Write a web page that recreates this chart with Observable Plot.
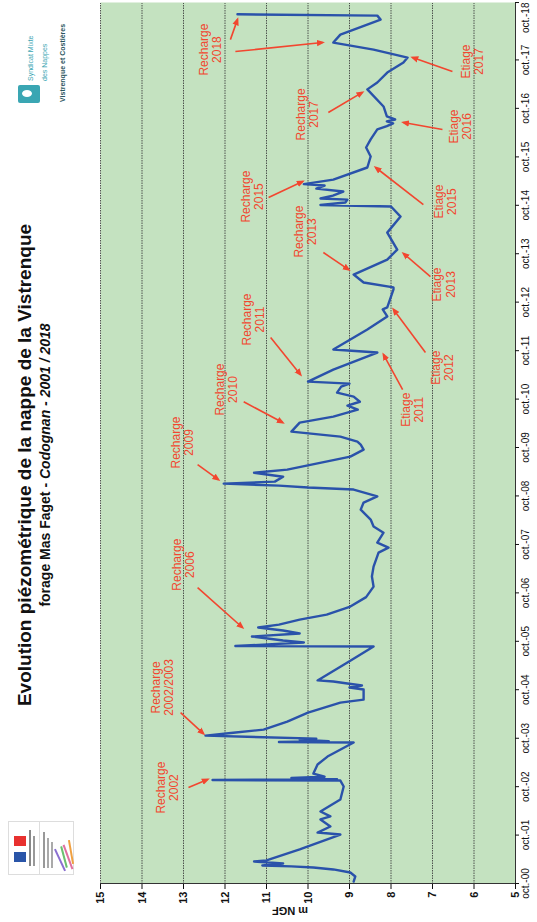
<!DOCTYPE html>
<html><head><meta charset="utf-8">
<script src="https://cdn.jsdelivr.net/npm/d3@7"></script>
<script src="https://cdn.jsdelivr.net/npm/@observablehq/plot@0.6"></script>
<style>
html,body{margin:0;padding:0;width:537px;height:922px;overflow:hidden;background:#fff;}
#rot{position:absolute;left:0;top:0;width:922px;height:537px;transform-origin:0 0;transform:translate(0,922px) rotate(-90deg);font-family:"Liberation Sans",Arial,sans-serif;background:#fff;}
#header{position:relative;height:60px;width:922px;}
#title{position:absolute;left:0;width:914px;top:14px;text-align:center;font-weight:bold;color:#111;}
#title .l1{font-size:19px;line-height:21px;}
#title .l2{font-size:14px;line-height:20px;}
#title i{font-style:italic;}
.logo{position:absolute;}
#chart{position:absolute;left:0;top:60px;}
</style>
</head><body>
<div id="rot">
  <div id="header">
    <div id="title"><div class="l1">Evolution piézométrique de la nappe de la Vistrenque</div><div class="l2">forage Mas Faget - <i>Codognan - 2001 / 2018</i></div></div>
    <div class="logo" id="gov" style="left:47px;top:8px;width:52px;height:64px;border:1px solid #ddd;background:#fff;">
      <div style="position:absolute;left:0;top:0;width:52px;height:30px;border-bottom:1px solid #ddd;">
        <div style="position:absolute;left:12px;top:5px;width:10px;height:12px;background:#2a55a8;"></div>
        <div style="position:absolute;left:22px;top:5px;width:6px;height:12px;background:#fff;"></div>
        <div style="position:absolute;left:28px;top:5px;width:10px;height:12px;background:#e8312f;"></div>
        <div style="position:absolute;left:8px;top:20px;width:36px;height:2px;background:#888;"></div>
        <div style="position:absolute;left:8px;top:24px;width:30px;height:2px;background:#999;"></div>
      </div>
      <div style="position:absolute;left:6px;top:34px;width:36px;height:2px;background:#999;"></div>
      <div style="position:absolute;left:6px;top:38px;width:30px;height:2px;background:#aaa;"></div>
      <div style="position:absolute;left:6px;top:42px;width:26px;height:2px;background:#aaa;"></div>
      <div style="position:absolute;left:2px;top:50px;width:24px;height:2px;background:#8a6fd0;transform:rotate(-25deg);"></div>
      <div style="position:absolute;left:6px;top:54px;width:22px;height:2px;background:#6cc070;transform:rotate(-15deg);"></div>
      <div style="position:absolute;left:4px;top:58px;width:26px;height:2px;background:#e070a0;transform:rotate(-20deg);"></div>
      <div style="position:absolute;left:10px;top:61px;width:24px;height:2px;background:#f0a040;transform:rotate(-10deg);"></div>
    </div>
    <div class="logo" id="sm" style="left:817px;top:15px;width:66px;height:56px;">
      <div style="position:absolute;left:2px;top:3px;width:18px;height:22px;background:#3aa6b3;border-radius:2px;"></div>
      <div style="position:absolute;left:8px;top:7px;width:7px;height:10px;background:#fff;border-radius:50%;"></div>
      <div style="position:absolute;left:24px;top:12px;font-size:7px;color:#3aa6b3;line-height:8px;white-space:nowrap;">Syndicat Mixte</div>
      <div style="position:absolute;left:24px;top:26px;font-size:7px;color:#3aa6b3;line-height:8px;white-space:nowrap;">des Nappes</div>
      <div style="position:absolute;left:3px;top:44px;font-size:7px;font-weight:bold;color:#2a5560;line-height:8px;white-space:nowrap;">Vistrenque et Costières</div>
    </div>
  </div>
  <div id="chart"></div>
</div>
<script>
// Piezometric level series (m NGF)
const dates = ["2000-10-16","2000-11-23","2000-12-23","2001-01-15","2001-01-30","2001-02-07","2001-02-14","2001-03-01","2001-03-16","2001-03-24","2001-06-16","2001-10-05","2001-10-20","2001-12-05","2002-01-27","2002-02-19","2002-03-28","2002-06-26","2002-10-02","2002-11-16","2002-11-20","2002-11-26","2002-12-05","2002-12-15","2003-01-08","2003-03-17","2003-05-16","2003-08-30","2003-09-03","2003-09-08","2003-09-21","2003-09-28","2003-10-21","2003-11-12","2003-12-05","2004-02-03","2004-04-11","2004-06-26","2004-07-18","2004-10-03","2004-10-18","2004-11-02","2004-11-17","2004-12-02","2004-12-10","2005-04-24","2005-08-23","2005-08-26","2005-09-22","2005-10-07","2005-11-06","2005-11-29","2005-12-21","2006-01-13","2006-02-04","2006-03-13","2006-04-20","2006-06-20","2006-08-30","2006-11-17","2007-02-01","2007-04-17","2007-07-31","2007-09-07","2007-10-15","2007-12-29","2008-02-13","2008-04-06","2008-06-20","2008-08-12","2008-09-27","2008-11-18","2008-12-03","2008-12-18","2009-01-02","2009-01-17","2009-02-23","2009-03-25","2009-04-17","2009-07-24","2009-09-15","2009-10-23","2009-11-15","2009-12-22","2010-01-29","2010-04-07","2010-05-22","2010-07-13","2010-08-12","2010-09-11","2010-10-20","2010-11-19","2011-01-03","2011-01-26","2011-02-10","2011-05-11","2011-09-17","2011-10-10","2012-03-09","2012-06-15","2012-08-07","2012-08-22","2013-01-05","2013-01-20","2013-02-26","2013-04-27","2013-08-18","2013-11-01","2014-03-09","2014-07-08","2014-09-22","2014-10-03","2014-10-22","2014-11-13","2014-11-21","2014-12-13","2015-01-13","2015-02-04","2015-02-27","2015-03-10","2015-04-13","2015-07-13","2015-10-04","2015-12-11","2016-02-10","2016-04-25","2016-05-20","2016-06-10","2016-06-25","2016-07-09","2016-08-01","2016-10-15","2017-02-21","2017-04-14","2017-06-28","2017-09-12","2017-10-19","2017-12-18","2018-02-09","2018-04-10","2018-08-01","2018-08-31","2018-09-10"];
const levels = [8.90,8.86,8.98,9.39,9.87,10.4,11.1,10.6,11.3,11.0,10.2,9.22,9.77,9.46,9.70,9.46,9.70,9.22,9.14,9.22,12.3,9.3,10.4,9.6,9.87,9.77,9.53,8.90,10.7,9.5,10.2,9.8,12.47,11.8,11.07,10.5,10.0,9.22,8.66,8.66,9.0,8.7,9.05,9.39,9.77,9.05,8.42,11.75,10.1,10.6,11.35,10.2,10.6,11.2,10.7,10.2,9.55,8.98,8.60,8.42,8.46,8.42,8.30,8.06,8.33,8.18,8.42,8.49,8.73,8.66,8.33,8.90,10.0,10.7,12.03,10.8,10.6,11.3,10.5,8.98,8.66,8.73,8.81,9.22,10.4,10.2,9.39,8.8,9.05,8.75,8.9,9.3,9.2,9.0,10.0,9.39,8.33,9.39,8.57,8.09,8.2,8.09,7.94,7.94,8.66,8.90,8.09,7.85,8.09,7.77,8.0,9.70,9.1,9.05,9.7,9.4,9.15,9.8,9.6,10.1,9.39,8.57,8.49,8.6,8.49,8.33,8.1,7.95,8.1,7.9,8.1,8.18,8.57,8.33,8.09,7.7,7.60,8.42,9.39,9.22,8.25,8.33,11.7];

// Axis ticks
const levelTicks = [5,6,7,8,9,10,11,12,13,14,15];
const tickDates = ["2000-10-01","2001-10-01","2002-10-01","2003-10-01","2004-10-01","2005-10-01","2006-10-01","2007-10-01","2008-10-01","2009-10-01","2010-10-01","2011-10-01","2012-10-01","2013-10-01","2014-10-01","2015-10-01","2016-10-01","2017-10-01","2018-10-01"];
const tickLabels = ["oct.-00","oct.-01","oct.-02","oct.-03","oct.-04","oct.-05","oct.-06","oct.-07","oct.-08","oct.-09","oct.-10","oct.-11","oct.-12","oct.-13","oct.-14","oct.-15","oct.-16","oct.-17","oct.-18"];
const domainDates = ["2000-10-01","2018-12-08"];

// Annotations
const noteLabels = ["Recharge\n2002","Recharge\n2002/2003","Recharge\n2006","Recharge\n2009","Recharge\n2010","Recharge\n2011","Recharge\n2013","Recharge\n2015","Recharge\n2017","Recharge\n2018","Etiage\n2011","Etiage\n2012","Etiage\n2013","Etiage\n2015","Etiage\n2016","Etiage\n2017"];
const noteDates = ["2002-09-24","2004-10-18","2007-05-02","2009-11-08","2010-12-12","2012-05-23","2014-03-17","2014-12-06","2016-08-16","2017-12-18","2010-07-13","2011-05-26","2013-02-11","2014-10-29","2016-05-17","2017-09-19"];
const noteLevels = [13.39,13.51,13.0,13.02,11.96,11.31,10.06,11.34,10.01,12.35,7.48,6.76,6.73,6.69,6.33,6.04];

const arrowFromDates = ["2002-09-24","2004-04-11","2006-11-10","2009-05-25","2010-09-11","2012-01-08","2013-10-10","2014-11-29","2016-08-31","2018-03-03","2017-12-03","2010-12-12","2011-09-17","2013-04-12","2014-10-07","2016-04-25","2017-07-06"];
const arrowFromLevels = [12.88,13.07,12.66,12.66,11.55,10.90,9.63,10.95,9.51,11.87,11.75,7.72,7.17,7.05,7.22,6.76,6.52];
const arrowToDates = ["2002-11-24","2003-11-05","2006-01-13","2009-02-01","2010-04-07","2011-04-03","2013-06-03","2015-03-29","2017-01-29","2018-08-01","2018-02-09","2011-09-02","2012-08-07","2013-10-03","2015-07-13","2016-06-16","2017-10-19"];
const arrowToLevels = [12.42,12.52,11.58,12.16,10.61,10.18,9.02,10.13,8.69,11.70,9.65,8.18,7.94,7.70,8.37,7.70,7.48];

const RED = "#f2462f";
const BLUE = "#2a52aa";
const series = dates.map((d, i) => ({date: new Date(d), level: levels[i]}));
const notes = noteLabels.map((t, i) => ({text: t, date: new Date(noteDates[i]), level: noteLevels[i]}));
const arrows = arrowFromDates.map((d, i) => ({x1: new Date(d), y1: arrowFromLevels[i], x2: new Date(arrowToDates[i]), y2: arrowToLevels[i]}));
const tickDateObjs = tickDates.map(d => new Date(d));
const labelByTime = new Map(tickDateObjs.map((d, i) => [+d, tickLabels[i]]));

const tri = (color, context) => {
  const doc = (context && context.document) || document;
  const ns = "http://www.w3.org/2000/svg";
  const m = doc.createElementNS(ns, "marker");
  m.setAttribute("viewBox", "-5 -5 10 10");
  m.setAttribute("markerWidth", "5");
  m.setAttribute("markerHeight", "5");
  m.setAttribute("orient", "auto");
  m.setAttribute("refX", "2");
  const p = doc.createElementNS(ns, "path");
  p.setAttribute("d", "M-5,-4L5,0L-5,4Z");
  p.setAttribute("fill", color);
  p.setAttribute("stroke", "none");
  m.appendChild(p);
  return m;
};

const chart = Plot.plot({
  width: 922,
  height: 477,
  marginLeft: 38,
  marginRight: 3,
  marginTop: 40,
  marginBottom: 22,
  style: {fontFamily: "'Liberation Sans', Arial, sans-serif", background: "transparent", color: "#111"},
  x: {type: "utc", domain: domainDates.map(d => new Date(d))},
  y: {domain: [levelTicks[0], levelTicks[levelTicks.length - 1]]},
  marks: [
    Plot.frame({fill: "#c4e2c0", stroke: null}),
    Plot.gridY(levelTicks, {stroke: "#3a3a3a", strokeOpacity: 0.85, strokeWidth: 1, strokeDasharray: "1.5,1"}),
    Plot.ruleX([tickDateObjs[0]], {stroke: "#333", strokeWidth: 1}),
    Plot.ruleY([levelTicks[0]], {stroke: "#333", strokeWidth: 1}),
    Plot.axisY({ticks: levelTicks, tickSize: 5, tickPadding: 3, fontSize: 11, fontWeight: "bold", label: null, tickFormat: d => String(d)}),
    Plot.axisX({ticks: tickDateObjs.slice(0, -1), tickSize: 4, tickPadding: 2, fontSize: 10, label: null, tickFormat: d => labelByTime.get(+d)}),
    Plot.axisX({ticks: tickDateObjs.slice(-1), tickSize: 4, tickPadding: 2, fontSize: 10, label: null, textAnchor: "end", dx: 9, tickFormat: d => labelByTime.get(+d)}),
    Plot.text(["m NGF"], {frameAnchor: "left", dx: -27, rotate: -90, fontSize: 11, fontWeight: "bold", fill: "#111"}),
    Plot.line(series, {x: "date", y: "level", stroke: BLUE, strokeWidth: 2.4, strokeLinejoin: "round"}),
    Plot.link(arrows, {x1: "x1", y1: "y1", x2: "x2", y2: "y2", stroke: RED, strokeWidth: 1.6, markerEnd: tri}),
    Plot.text(notes, {x: "date", y: "level", text: "text", fill: RED, fontSize: 12, lineHeight: 1.1, textAnchor: "middle"})
  ]
});
document.getElementById("chart").appendChild(chart);
</script>
</body></html>
